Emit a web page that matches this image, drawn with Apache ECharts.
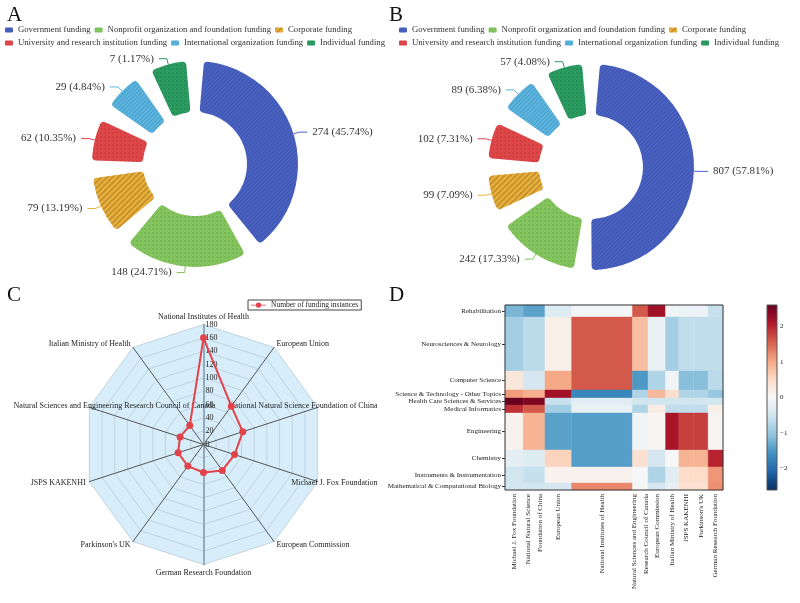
<!DOCTYPE html>
<html><head><meta charset="utf-8">
<script src="https://cdn.jsdelivr.net/npm/echarts@6/dist/echarts.min.js"></script>
<style>html,body{margin:0;padding:0;background:#fff}#c{width:800px;height:603px}</style>
</head><body><div id="c"></div>
<script>
const FONT = '"Liberation Serif","Times New Roman",serif';

// ---- Panels A & B: funding sources ----
const fundingTypes = ['Government funding','Nonprofit organization and foundation funding','Corporate funding','University and research institution funding','International organization funding','Individual funding'];
const fundingA = [274, 148, 79, 62, 29, 7];
const fundingB = [807, 242, 99, 102, 89, 57];
const fundingColors = ['#4a62c2','#84c45e','#e9b23e','#de4749','#5cb6df','#2b9a60'];

// ---- Panel C: funders (clockwise from top) ----
const funders = ['National Institutes of Health','European Union','National Natural Science Foundation of China','Michael J. Fox Foundation','European Commission','German Research Foundation',"Parkinson's UK",'JSPS KAKENHI','Natural Sciences and Engineering Research Council of Canada','Italian Ministry of Health'];
const funderCounts = [160, 71, 62, 49, 48, 42, 40, 40, 37, 35];
const radarMax = 180;

// ---- Panel D: heatmap ----
const heatCols = ['Michael J. Fox Foundation','National Natural Science\nFoundation of China','European Union','National Institutes of Health','Natural Sciences and Engineering\nResearch Council of Canada','European Commission','Italian Ministry of Health','JSPS KAKENHI',"Parkinson's UK",'German Research Foundation'];
const heatColWidths = [48, 57, 70, 160, 41, 46, 35, 38, 39, 39];
const heatRows = ['Rehabilitation','Neurosciences & Neurology','Computer Science','Science & Technology - Other Topics','Health Care Sciences & Services','Medical Informatics','Engineering','Chemistry','Instruments & Instrumentation','Mathematical & Computational Biology'];
const heatRowHeights = [12, 54, 19, 8, 7, 8, 37, 17, 16, 7];
const rowRehab = [-1.2, -1.4, -0.35, -0.05, 1.6, 2.2, -0.1, -0.15, -0.15, -0.6];
const rowNeuro = [-0.9, -0.7, 0.15, 1.6, 0.8, -0.2, -0.9, -0.65, -0.65, -0.65];
const rowCompSci = [0.3, -0.45, 1.0, 1.6, -1.5, -0.8, -0.1, -1.1, -1.1, -0.7];
const rowSciTech = [1.1, 0.95, 2.2, -1.7, -0.8, 0.85, 0.45, -0.8, -0.8, -1.0];
const rowHealth = [2.6, 2.45, -0.6, -0.3, -0.5, -0.5, -0.5, -0.5, -0.5, -0.5];
const rowMedInf = [1.9, 1.6, -0.9, -0.2, -0.8, 0.2, -0.65, -0.65, -0.65, 0.15];
const rowEng = [0.1, 0.9, -1.4, -1.45, -0.08, 0.05, 2.15, 1.8, 1.8, 0.05];
const rowChem = [-0.25, -0.35, 0.6, -1.45, 0.4, -0.45, 0.0, 0.9, 0.9, 2.0];
const rowInstr = [-0.5, -0.6, 0.1, 0.12, -0.03, -0.8, -0.3, 0.5, 0.5, 1.15];
const rowMath = [-0.5, -0.5, -0.45, 1.25, -0.05, -0.45, -0.2, 0.4, 0.4, 1.2];
const heatValues = [rowRehab, rowNeuro, rowCompSci, rowSciTech, rowHealth, rowMedInf, rowEng, rowChem, rowInstr, rowMath];
const colorRange = [-2.6, 2.6];
const colorbarTicks = [-2, -1, 0, 1, 2];
const rdbuR = ['#053061','#2166ac','#4393c3','#92c5de','#d1e5f0','#f7f7f7','#fddbc7','#f4a582','#d6604d','#b2182b','#67001f'];

// ---- derived ----
function edges(arr){ const e=[0]; arr.forEach(v=>e.push(e[e.length-1]+v)); return e; }
const colEdges = edges(heatColWidths), rowEdges = edges(heatRowHeights);
const colCenters = heatColWidths.map((w,i)=>colEdges[i]+w/2);
const rowCenters = heatRowHeights.map((h,i)=>rowEdges[i]+h/2);
const heatData = [];
heatRows.forEach((r,i)=>heatCols.forEach((c,j)=>heatData.push([colEdges[j], colEdges[j+1], rowEdges[i], rowEdges[i+1], heatValues[i][j]])));
function nearestName(v, centers, names){ let b=0; centers.forEach((c,i)=>{ if(Math.abs(c-v)<Math.abs(centers[b]-v)) b=i; }); return names[b]; }

const decals = [
  {symbol:'rect', symbolSize:1, dashArrayX:[1,0], dashArrayY:[1,2], rotation:-Math.PI/4, color:'rgba(20,30,100,0.22)'},
  {symbol:'circle', symbolSize:0.8, dashArrayX:[2,1.5], dashArrayY:[2,1.5], color:'rgba(40,100,20,0.25)'},
  {symbol:'rect', symbolSize:1, dashArrayX:[1,0], dashArrayY:[1.5,2], rotation:-Math.PI/4, color:'rgba(120,70,0,0.3)'},
  {symbol:'circle', symbolSize:0.8, dashArrayX:[2,1.5], dashArrayY:[2,1.5], color:'rgba(120,0,0,0.25)'},
  {symbol:'rect', symbolSize:1, dashArrayX:[1,0], dashArrayY:[1,2], rotation:-Math.PI/4, color:'rgba(0,60,110,0.2)'},
  {symbol:'circle', symbolSize:0.8, dashArrayX:[2,1.5], dashArrayY:[2,1.5], color:'rgba(0,60,20,0.25)'}
];
function pieData(vals){ return fundingTypes.map((n,i)=>({name:n, value:vals[i], itemStyle:{color:fundingColors[i], decal:decals[i]}})); }
function pieSeries(vals, center){
  return {type:'pie', center:center, radius:[52,103], padAngle:10, minAngle:20, startAngle:90,
    itemStyle:{borderRadius:4}, data:pieData(vals),
    label:{formatter:'{c} ({d}%)', fontFamily:FONT, fontSize:11, color:'#333'},
    labelLine:{length:6, length2:8, lineStyle:{width:1}}, emphasis:{disabled:true}};
}

const radarOrder = [0].concat(funders.map((f,i)=>i).slice(1).reverse());
const longNameRich = {
  r: {width:56, align:'right', fontFamily:FONT, fontSize:8, color:'#222'},
  l: {width:72, align:'left', fontFamily:FONT, fontSize:8, color:'#222'}
};
const indicators = radarOrder.map(i=>{
  const ind = {name:funders[i], min:0, max:radarMax};
  if (i===0) ind.axisLabel = {show:true, fontSize:8, fontFamily:FONT, color:'#222', margin:-2, align:'left'};
  if (i===0 || i===5) ind.axisLine = {lineStyle:{color:'#93abbb', width:2}};
  return ind;
});

const legendText = {fontFamily:FONT, fontSize:8.7, color:'#333'};
function legendRow(left, top, names){ return {left, top, padding:0, itemWidth:8, itemHeight:5, itemGap:4, data:names, textStyle:legendText, selectedMode:false}; }
const lineDotIcon = 'path://M0,3L20,3L20,4L0,4Z M6.5,3.5A3.5,3.5 0 1 1 13.5,3.5A3.5,3.5 0 1 1 6.5,3.5Z';

const option = {
  animation:false,
  title:[
    {text:'A', left:2, top:0, textStyle:{fontFamily:FONT, fontSize:21, fontWeight:'normal', color:'#111'}},
    {text:'B', left:384, top:0, textStyle:{fontFamily:FONT, fontSize:21, fontWeight:'normal', color:'#111'}},
    {text:'C', left:2, top:280, textStyle:{fontFamily:FONT, fontSize:21, fontWeight:'normal', color:'#111'}},
    {text:'D', left:384, top:280, textStyle:{fontFamily:FONT, fontSize:21, fontWeight:'normal', color:'#111'}}
  ],
  legend:[
    legendRow(5, 25.5, fundingTypes.slice(0,3)),
    legendRow(5, 38.5, fundingTypes.slice(3)),
    legendRow(399, 25.5, fundingTypes.slice(0,3)),
    legendRow(399, 38.5, fundingTypes.slice(3)),
    {left:248, top:300, padding:[1,3], borderColor:'#444', borderWidth:1, borderRadius:0, itemWidth:15, itemHeight:6,
     data:[{name:'Number of funding instances', icon:lineDotIcon}], textStyle:{fontFamily:FONT, fontSize:7.5, color:'#222'}, selectedMode:false}
  ],
  radar:{
    center:[203.5, 444.5], radius:120, startAngle:90, splitNumber:9, shape:'polygon',
    indicator:indicators, nameGap:4,
    axisName:{fontFamily:FONT, fontSize:8, color:'#222',
      formatter:(n)=>{
        if (n===funders[2] || n===funders[3]) return '{r|'+n+'}';
        if (n===funders[8]) return '{l|'+n+'}';
        return n;
      }, rich:longNameRich},
    splitArea:{areaStyle:{color:['#d7eefa']}},
    splitLine:{lineStyle:{color:'#bfd3de', width:1}},
    axisLine:{lineStyle:{color:'#555', width:1}},
    axisLabel:{show:false}
  },
  grid:[
    {left:505, top:305, width:218, height:185, show:true, borderColor:'#333', borderWidth:1, backgroundColor:'transparent', z:10},
    {left:767, top:305, width:10, height:185, show:true, borderColor:'#555', borderWidth:1, backgroundColor:'transparent', z:10}
  ],
  xAxis:[
    {gridIndex:0, type:'value', min:0, max:colEdges[colEdges.length-1], splitLine:{show:false}, axisLine:{show:false},
     axisTick:{show:true, customValues:colCenters, length:3, lineStyle:{color:'#333'}},
     axisLabel:{customValues:colCenters, rotate:90, fontFamily:FONT, fontSize:7, color:'#222', margin:4, lineHeight:12,
       formatter:(v)=>nearestName(v, colCenters, heatCols)}},
    {gridIndex:1, type:'value', min:0, max:1, show:false}
  ],
  yAxis:[
    {gridIndex:0, type:'value', inverse:true, min:0, max:rowEdges[rowEdges.length-1], splitLine:{show:false}, axisLine:{show:false},
     axisTick:{show:true, customValues:rowCenters, length:3, lineStyle:{color:'#333'}},
     axisLabel:{customValues:rowCenters, fontFamily:FONT, fontSize:7, color:'#222', margin:4,
       formatter:(v)=>nearestName(v, rowCenters, heatRows)}},
    {gridIndex:1, type:'value', position:'right', min:colorRange[0], max:colorRange[1], splitLine:{show:false}, axisLine:{show:false},
     axisTick:{show:true, customValues:colorbarTicks, length:3, lineStyle:{color:'#333'}},
     axisLabel:{customValues:colorbarTicks, fontFamily:FONT, fontSize:7, color:'#222', margin:3,
       formatter:(v)=> v<0 ? '\u2212'+Math.abs(v) : String(v)}}
  ],
  visualMap:{type:'continuous', show:false, min:colorRange[0], max:colorRange[1], dimension:4, seriesIndex:3, inRange:{color:rdbuR}},
  series:[
    pieSeries(fundingA, [195,164]),
    pieSeries(fundingB, [591,167]),
    {type:'radar', name:'Number of funding instances', data:[{value:radarOrder.map(i=>funderCounts[i]), name:'Number of funding instances'}],
     symbol:'circle', symbolSize:7, lineStyle:{color:'#e2434b', width:2}, itemStyle:{color:'#e2434b'}},
    {type:'custom', coordinateSystem:'cartesian2d', xAxisIndex:0, yAxisIndex:0, data:heatData, encode:{x:[0,1], y:[2,3]},
     renderItem:(params, api)=>{
       const p0 = api.coord([api.value(0), api.value(2)]);
       const p1 = api.coord([api.value(1), api.value(3)]);
       const c = api.visual('color');
       return {type:'rect', shape:{x:Math.min(p0[0],p1[0]), y:Math.min(p0[1],p1[1]), width:Math.abs(p1[0]-p0[0]), height:Math.abs(p1[1]-p0[1])},
         style:{fill:c, stroke:c, lineWidth:0.4}};
     }},
    {type:'custom', coordinateSystem:'cartesian2d', xAxisIndex:1, yAxisIndex:1, data:[[0, colorRange[0], 1, colorRange[1]]], encode:{x:[0,2], y:[1,3]},
     renderItem:(params, api)=>{
       const p0 = api.coord([api.value(0), api.value(3)]);
       const p1 = api.coord([api.value(2), api.value(1)]);
       const stops = rdbuR.slice().reverse().map((c,i,a)=>({offset:i/(a.length-1), color:c}));
       return {type:'rect', shape:{x:p0[0], y:p0[1], width:p1[0]-p0[0], height:p1[1]-p0[1]},
         style:{fill:new echarts.graphic.LinearGradient(0,0,0,1,stops)}};
     }}
  ]
};
const chart = echarts.init(document.getElementById('c'), null, {renderer:'canvas'});
chart.setOption(option);
</script></body></html>
